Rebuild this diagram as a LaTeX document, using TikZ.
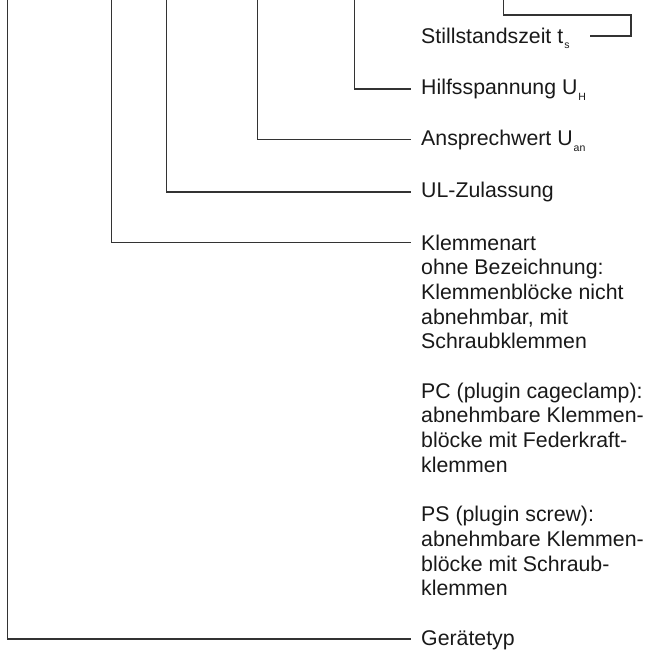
\documentclass[tikz,border=0pt]{standalone}
\usepackage{fontspec}
\setmainfont{Liberation Sans}
\newcommand{\lowsub}[1]{\kern1pt\raisebox{-5.5pt}{\fontsize{10.5}{11}\selectfont #1}}
\begin{document}
\begin{tikzpicture}[x=1pt,y=-1pt,
  lbl/.style={anchor=base west, inner sep=0pt, align=left, text=black!90,
    font=\fontsize{21.3}{24.7}\selectfont},
  conn/.style={draw=black!80, line width=1.1pt, line cap=rect}]
\useasboundingbox (0,0) rectangle (645,662);
% labels (multi-line nodes: base = baseline of last line)
\node[lbl] (ts) at (421,43) {Stillstandszeit t\lowsub{s}};
\node[lbl] (uh) at (421,94.5) {Hilfsspannung U\lowsub{H}};
\node[lbl] (uan) at (421,145.5) {Ansprechwert U\lowsub{an}};
\node[lbl] (ul) at (421,197.5) {UL-Zulassung};
\node[lbl] (ka) at (421,250) {Klemmenart};
\node[lbl] (kad) at (421,348.8) {ohne Bezeichnung:\\Klemmenblöcke nicht\\abnehmbar, mit\\Schraubklemmen};
\node[lbl] (pc) at (421,472.3) {PC (plugin cageclamp):\\abnehmbare Klemmen-\\blöcke mit Federkraft-\\klemmen};
\node[lbl] (ps) at (421,595.8) {PS (plugin screw):\\abnehmbare Klemmen-\\blöcke mit Schraub-\\klemmen};
\node[lbl] (gt) at (421,645) {Gerätetyp};
% free top ends
\coordinate (c0) at (7.5,0);
\coordinate (c1) at (111.3,0);
\coordinate (c2) at (166.7,0);
\coordinate (c3) at (257.3,0);
\coordinate (c4) at (354.3,0);
\coordinate (c5) at (503.7,0);
% connectors
\draw[conn] (c5) |- (631,15) |- ([xshift=170pt,yshift=7pt]ts.base west);
\draw[conn] (c4) |- ([xshift=-11pt,yshift=5.5pt]uh.base west);
\draw[conn] (c3) |- ([xshift=-11pt,yshift=6pt]uan.base west);
\draw[conn] (c2) |- ([xshift=-11pt,yshift=5.5pt]ul.base west);
\draw[conn] (c1) |- ([xshift=-11pt,yshift=7.5pt]ka.base west);
\draw[conn] (c0) |- ([xshift=-11pt,yshift=6pt]gt.base west);
\end{tikzpicture}
\end{document}
